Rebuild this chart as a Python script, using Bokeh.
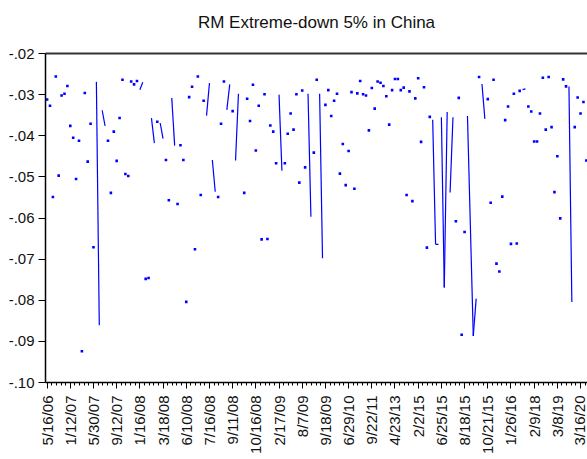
import math
from bokeh.plotting import figure
from bokeh.models import (Range1d, FixedTicker, LinearAxis, CustomJSTickFormatter,
                          ColumnDataSource)
from bokeh.embed import file_html
from bokeh.resources import INLINE

# Observation dates shown on the horizontal axis (one label every 8 observations)
date_labels = ["5/16/06", "1/12/07", "5/30/07", "9/12/07", "1/16/08", "3/18/08",
               "6/10/08", "7/16/08", "9/11/08", "10/16/08", "2/17/09", "8/7/09",
               "9/18/09", "6/29/10", "9/22/11", "4/23/13", "2/2/15", "6/25/15",
               "8/18/15", "10/21/15", "1/26/16", "2/9/18", "3/8/19", "3/16/20"]
label_step = 8

# Market return on extreme-down days (None = not available)
rm_down = [
    -0.0312, -0.0327, -0.0549, -0.0256, -0.0497, -0.0302, -0.0298, -0.0279,
    -0.0376, -0.0405, -0.0505, -0.0412, -0.0924, -0.0296, -0.0463, -0.0371,
    -0.0671, -0.0269, -0.0861, -0.0338, -0.0376, -0.0412, -0.0539, -0.0390,
    -0.0461, -0.0357, -0.0264, -0.0493, -0.0498, -0.0268, -0.0275, -0.0267,
    -0.0288, -0.0270, -0.0748, -0.0746, -0.0357, -0.0418, -0.0366, -0.0369,
    -0.0407, -0.0459, -0.0557, -0.0308, -0.0424, -0.0566, -0.0423, -0.0459,
    -0.0804, -0.0306, -0.0281, -0.0676, -0.0256, -0.0544, -0.0315, -0.0351,
    -0.0272, -0.0459, -0.0536, -0.0549, -0.0371, -0.0268, -0.0337, -0.0275,
    -0.0340, -0.0460, -0.0298, None, -0.0539, -0.0310, -0.0364, -0.0276,
    -0.0436, -0.0327, -0.0652, -0.0299, -0.0651, -0.0375, -0.0390, -0.0467,
    -0.0300, -0.0485, -0.0467, -0.0395, -0.0346, -0.0385, -0.0299, -0.0514,
    -0.0290, -0.0477, -0.0298, -0.0597, -0.0441, -0.0264, -0.0298, -0.0698,
    -0.0325, -0.0289, -0.0352, -0.0315, -0.0298, -0.0492, -0.0420, -0.0520,
    -0.0437, -0.0294, -0.0529, -0.0297, -0.0267, -0.0299, -0.0302, -0.0387,
    -0.0284, -0.0334, -0.0268, -0.0271, -0.0279, -0.0304, -0.0373, -0.0289,
    -0.0262, -0.0262, -0.0289, -0.0283, -0.0544, -0.0292, -0.0559, -0.0309,
    -0.0260, -0.0415, -0.0282, -0.0672, -0.0354, -0.0361, -0.0664, -0.0664,
    -0.0355, -0.0769, -0.0342, -0.0538, -0.0355, -0.0608, -0.0308, -0.0884,
    -0.0634, -0.0352, None, -0.0887, -0.0796, -0.0257, -0.0274, -0.0359,
    -0.0311, -0.0563, -0.0264, -0.0711, -0.0730, -0.0548, -0.0362, -0.0329,
    -0.0663, -0.0298, -0.0662, -0.0291, -0.0288, -0.0286, -0.0329, -0.0341,
    -0.0414, -0.0414, -0.0346, -0.0259, -0.0385, -0.0257, -0.0379, -0.0537,
    -0.0450, -0.0601, -0.0263, -0.0280, -0.0280, -0.0804, -0.0379, -0.0307,
    -0.0346, -0.0318, -0.0460,
]

# Observations joined by a line (start, end)
links = [(17, 18), (19, 20), (32, 33), (36, 37), (39, 40), (43, 44), (55, 56),
         (57, 58), (62, 63), (65, 66), (80, 81), (90, 91), (94, 95),
         (133, 134), (134, 135), (136, 137), (137, 138), (139, 140),
         (145, 147), (147, 148), (150, 151), (164, 165), (180, 181)]

y_ticks = [-0.10, -0.09, -0.08, -0.07, -0.06, -0.05, -0.04, -0.03, -0.02]

BLUE = "#0000ff"
FONT = "Liberation Sans"

p = figure(width=587, height=459, output_backend="svg", toolbar_location=None,
           x_range=Range1d(-0.55, 186.4), y_range=Range1d(-0.10, -0.02),
           min_border_left=45, min_border_right=0, min_border_top=0,
           min_border_bottom=77, background_fill_color="white",
           border_fill_color="white", outline_line_color=None)

p.title.text = "RM Extreme-down 5% in China"
p.title.align = "center"
p.title.text_font = FONT
p.title.text_font_size = "17px"
p.title.text_font_style = "normal"
p.title.text_color = "#111111"
p.title.standoff = 20

p.xgrid.visible = False
p.ygrid.visible = False

# joined segments
seg = ColumnDataSource(dict(
    x0=[a for a, b in links], y0=[rm_down[a] for a, b in links],
    x1=[b for a, b in links], y1=[rm_down[b] for a, b in links]))
p.segment("x0", "y0", "x1", "y1", source=seg, line_color=BLUE, line_width=1.2)

# isolated observations drawn as dots
linked = {i for pair in links for i in pair}
dots = ColumnDataSource(dict(
    x=[i for i, v in enumerate(rm_down) if v is not None and i not in linked],
    y=[v for i, v in enumerate(rm_down) if v is not None and i not in linked]))
p.scatter("x", "y", source=dots, marker="square", size=2.6,
          fill_color=BLUE, line_color=None)

# x axis
xa = p.xaxis[0]
majors = [i * label_step for i in range(len(date_labels))]
minors = [m + k * label_step / 5 for m in majors for k in range(1, 5)]
xa.ticker = FixedTicker(ticks=majors, minor_ticks=minors)
xa.major_label_overrides = {i * label_step: t for i, t in enumerate(date_labels)}
xa.major_label_orientation = math.pi / 2
xa.major_label_text_font = FONT
xa.major_label_text_font_size = "15px"
xa.major_label_text_color = "#111111"
xa.major_label_standoff = 7
xa.axis_line_color = "black"
xa.axis_line_width = 1.5
xa.major_tick_line_color = "black"
xa.major_tick_in = 0
xa.major_tick_out = 6
xa.minor_tick_line_color = "black"
xa.minor_tick_in = 0
xa.minor_tick_out = 3

# y axis
ya = p.yaxis[0]
ya.ticker = FixedTicker(ticks=y_ticks, minor_ticks=[])
ya.formatter = CustomJSTickFormatter(code="return tick.toFixed(2).replace('0.', '.');")
ya.major_label_text_font = FONT
ya.major_label_text_font_size = "15px"
ya.major_label_text_color = "#111111"
ya.major_label_standoff = 4
ya.axis_line_color = "black"
ya.axis_line_width = 1.5
ya.major_tick_line_color = "black"
ya.major_tick_in = 0
ya.major_tick_out = 7
ya.minor_tick_line_color = None

# upper frame line, with a little clearance below the title
top = LinearAxis(ticker=FixedTicker(ticks=[]), axis_line_color="#333333",
                 axis_line_width=2, major_label_text_font_size="0px",
                 major_tick_line_color=None, minor_tick_line_color=None,
                 axis_label=" ", axis_label_text_font_size="1px",
                 axis_label_standoff=8)
p.add_layout(top, "above")

open("out.html", "w").write(file_html(p, INLINE))
